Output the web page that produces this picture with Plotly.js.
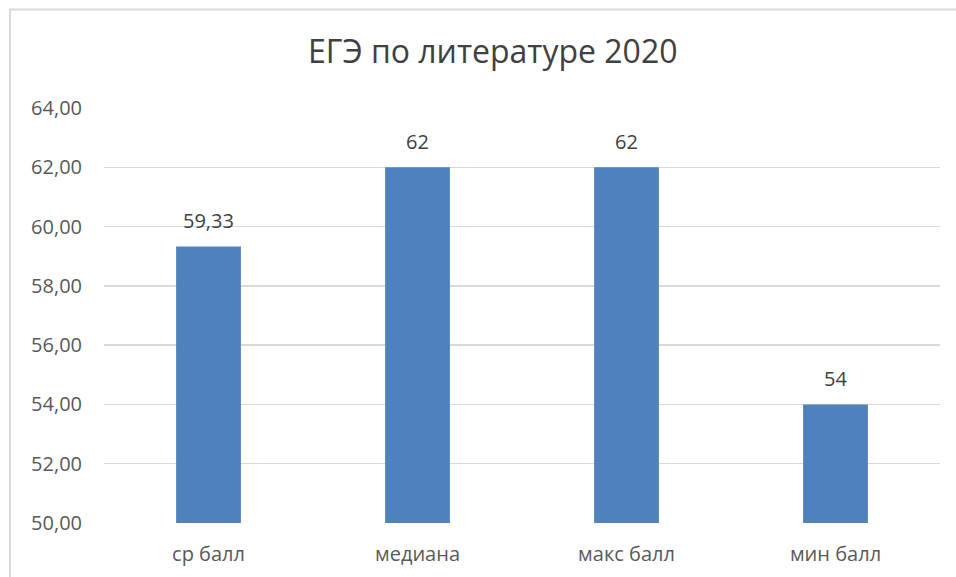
<!DOCTYPE html>
<html><head><meta charset="utf-8">
<script src="https://cdn.plot.ly/plotly-3.0.1.min.js"></script>
<style>html,body{margin:0;padding:0;background:#fff;}#chart{width:956px;height:577px;}</style>
</head><body><div id="chart"></div>
<script>
const categories = ["ср балл", "медиана", "макс балл", "мин балл"];
const values = [59.33, 62, 62, 54];
const labels = ["59,33", "62", "62", "54"];
const tickVals = [50, 52, 54, 56, 58, 60, 62, 64];
const tickText = ["50,00", "52,00", "54,00", "56,00", "58,00", "60,00", "62,00", "64,00"];
const font = "Open Sans, Noto Sans, sans-serif";

const annotations = categories.map((c, i) => ({
  x: c, y: values[i], xref: "x", yref: "y", text: labels[i], showarrow: false,
  yanchor: "middle", yshift: 26, font: {family: font, size: 20, color: "#404040"}
}));

Plotly.newPlot("chart", [{
  type: "bar", x: categories, y: values,
  marker: {color: "#4F81BD"}, width: 0.31, hoverinfo: "none"
}], {
  width: 956, height: 577,
  margin: {l: 104, r: 16, t: 108, b: 54},
  paper_bgcolor: "#fff", plot_bgcolor: "#fff",
  title: {text: "ЕГЭ по литературе 2020", font: {family: font, size: 32, color: "#404040"},
          x: 0.465, xanchor: "center", y: 0.91, yanchor: "middle", xref: "paper"},
  xaxis: {tickfont: {family: font, size: 20, color: "#595959"}, showgrid: false,
          showline: false, ticks: "", zeroline: false, ticklabelstandoff: 17, automargin: false},
  yaxis: {range: [50, 64], tickvals: tickVals, ticktext: tickText,
          tickfont: {family: font, size: 20, color: "#595959"},
          gridcolor: "#d9d9d9", gridwidth: 1.5, zeroline: false, showline: false,
          ticks: "", ticklen: 0, ticklabelstandoff: 21, automargin: false},
  showlegend: false,
  annotations: annotations,
  shapes: [{type: "rect", xref: "paper", yref: "paper",
            x0: -0.1124, x1: 1.03, y0: -0.15, y1: 1.2373,
            line: {color: "#d9d9d9", width: 2}, fillcolor: "rgba(0,0,0,0)", layer: "below"}]
}, {displayModeBar: false, staticPlot: true});
</script></body></html>
